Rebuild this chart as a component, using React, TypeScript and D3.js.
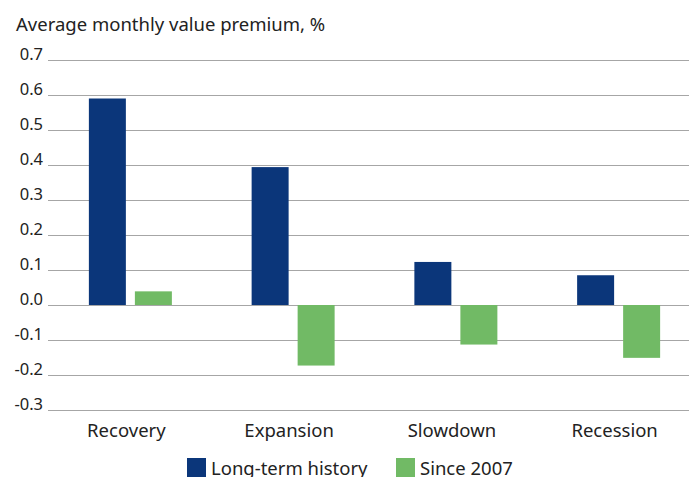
import React from "react";
import * as d3 from "d3";

const categories = ["Recovery", "Expansion", "Slowdown", "Recession"];
const longTerm = [0.59, 0.394, 0.123, 0.085];
const since2007 = [0.039, -0.173, -0.113, -0.151];
const yTicks = [-0.3, -0.2, -0.1, 0.0, 0.1, 0.2, 0.3, 0.4, 0.5, 0.6, 0.7];
const seriesNames = ["Long-term history", "Since 2007"];
const colors = ["#0b367a", "#71ba65"];

export default function App() {
  const W = 689, H = 477;
  const font = "'Noto Sans', 'Open Sans', sans-serif";
  const big = 18.5;
  const y = d3.scaleLinear().domain([-0.3, 0.7]).range([410, 60]);
  const x = d3.scaleBand<string>().domain(categories).range([49, 700]).padding(0);
  const bw = x.bandwidth();
  const sub = d3
    .scaleBand<number>()
    .domain([0, 1])
    .range([bw / 2 - 41.5, bw / 2 + 41.5])
    .paddingInner(0.196)
    .paddingOuter(0);
  const series = [longTerm, since2007];
  return (
    <svg width={W} height={H} style={{ position: "absolute", left: 0, top: 0 }}>
      <rect width={W} height={H} fill="#fff" />
      <text x={16} y={30.5} fontFamily={font} fontSize={big} fill="#222">
        Average monthly value premium, %
      </text>
      {yTicks.map((t) => (
        <g key={t}>
          <line x1={48} x2={W} y1={Math.round(y(t)) + 0.5} y2={Math.round(y(t)) + 0.5} stroke="#a6a6a6" strokeWidth={1} />
          <text x={43} y={y(t) - 0.5} textAnchor="end" fontFamily={font} fontSize={16.5} fill="#222">
            {t.toFixed(1)}
          </text>
        </g>
      ))}
      {series.map((vals, si) =>
        vals.map((v, i) => (
          <rect
            key={si + "-" + i}
            x={(x(categories[i]) as number) + (sub(si) as number)}
            y={y(Math.max(0, v))}
            width={sub.bandwidth()}
            height={Math.abs(y(v) - y(0))}
            fill={colors[si]}
          />
        ))
      )}
      {categories.map((c) => (
        <text
          key={c}
          x={(x(c) as number) + bw / 2 - 4}
          y={437}
          textAnchor="middle"
          fontFamily={font}
          fontSize={big}
          fill="#222"
        >
          {c}
        </text>
      ))}
      {seriesNames.map((n, i) => {
        const lx = [187, 396][i];
        return (
          <g key={n}>
            <rect x={lx} y={458} width={19} height={19} fill={colors[i]} />
            <text x={lx + 24} y={475} fontFamily={font} fontSize={big} fill="#222">
              {n}
            </text>
          </g>
        );
      })}
    </svg>
  );
}
